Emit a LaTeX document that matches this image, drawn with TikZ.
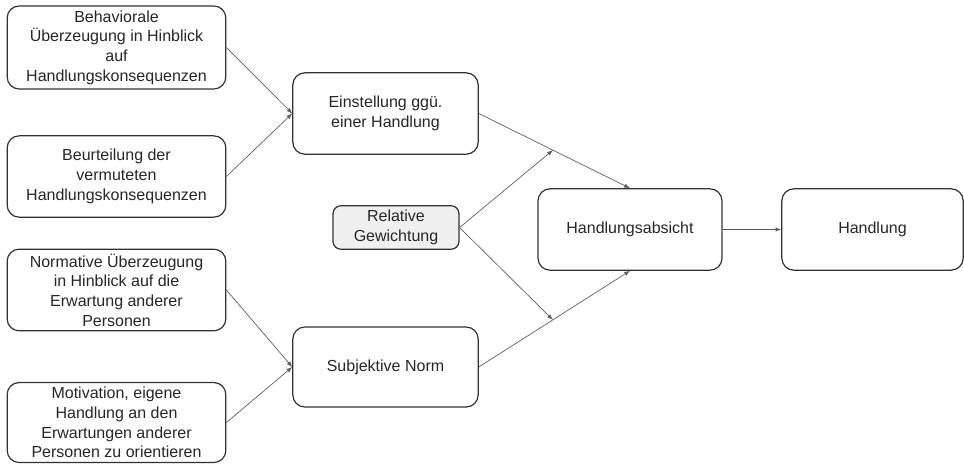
\documentclass[tikz,border=0pt]{standalone}
\usepackage{fontspec}
\setmainfont{Liberation Sans}
\definecolor{BoxLine}{RGB}{50,50,50}
\definecolor{ArrowLine}{RGB}{90,90,90}
\definecolor{WeightFill}{RGB}{240,240,240}
\usepackage{tikz}
\usetikzlibrary{shapes,arrows,calc}

\begin{document}
\begin{tikzpicture}[x=0.75pt, y=-0.75pt]
		\tikzstyle{every node}=[draw=BoxLine, line width=0.9pt, rounded corners=9pt, align=center, text=black!85, font=\fontsize{12}{14.8}\selectfont];
		\tikzstyle{leftbox}=[minimum width=164pt, minimum height=61pt];
		\tikzstyle{midbox}=[minimum width=139pt, minimum height=61pt];
		\tikzstyle{arr}=[->, >=latex, draw=ArrowLine, line width=0.5pt];
		\useasboundingbox (0,0) rectangle (964,464);
		\node [leftbox] (b1) at (116.5, 47.5) {Behaviorale\\Überzeugung in Hinblick\\auf\\Handlungskonsequenzen};
		\node [leftbox] (b2) at (116.5, 176.5) {Beurteilung der\\vermuteten\\Handlungskonsequenzen};
		\node [leftbox] (b3) at (116.5, 290) {Normative Überzeugung\\in Hinblick auf die\\Erwartung anderer\\Personen};
		\node [leftbox, minimum height=60pt] (b4) at (116.5, 422.5) {Motivation, eigene\\Handlung an den\\Erwartungen anderer\\Personen zu orientieren};
		\node [midbox] (ein) at (385.5, 113.5) {Einstellung ggü.\\einer Handlung};
		\node [midbox, minimum height=60pt] (norm) at (385.5, 367) {Subjektive Norm};
		\node [fill=WeightFill, minimum width=94.5pt, minimum height=32pt, rounded corners=6pt] (rel) at (396, 227.5) {Relative\\Gewichtung};
		\node [midbox, minimum width=138pt] (abs) at (630, 229.5) {Handlungsabsicht};
		\node [midbox, minimum width=136pt] (hdl) at (872.5, 229.5) {Handlung};
		\coordinate (m1) at ($(ein.east)!0.49!(abs.north)$);
		\coordinate (m2) at ($(norm.east)!0.49!(abs.south)$);
		\draw[arr] (b1.east) -- (ein.west);
		\draw[arr] (b2.east) -- (ein.west);
		\draw[arr] (b3.east) -- (norm.west);
		\draw[arr] (b4.east) -- (norm.west);
		\draw[arr] (ein.east) -- (abs.north);
		\draw[arr] (norm.east) -- (abs.south);
		\draw[arr] (rel.east) -- (m1);
		\draw[arr] (rel.east) -- (m2);
		\draw[arr] (abs.east) -- (hdl.west);
	\end{tikzpicture}
\end{document}
